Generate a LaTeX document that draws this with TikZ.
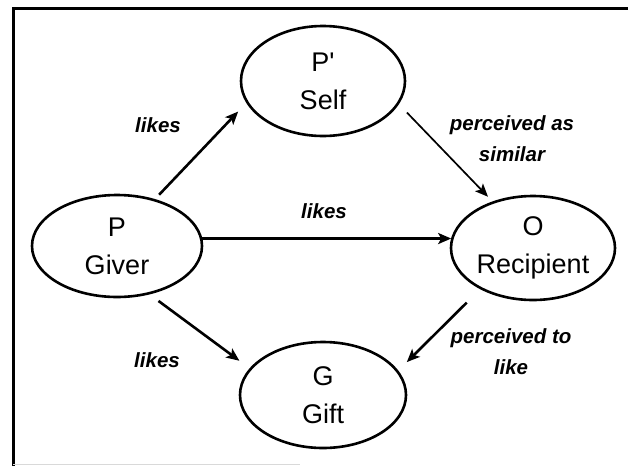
\documentclass[tikz,border=0pt]{standalone}
\usepackage{fontspec}
\setmainfont{Liberation Sans}
\usetikzlibrary{arrows.meta,calc,shapes.geometric}
\begin{document}
\begin{tikzpicture}[x=1pt,y=-1pt,
  bubble/.style={draw, ellipse, line width=2.6pt, inner sep=0pt, align=center,
    font=\fontsize{27}{38}\selectfont},
  rel/.style={-{Stealth[length=13pt,width=11pt,inset=3pt]}, line width=2.6pt},
  thinrel/.style={rel, line width=1.7pt},
  tag/.style={font=\fontsize{20.5}{31}\selectfont\bfseries\itshape, align=center, inner sep=0pt}
]
\useasboundingbox (0,0) rectangle (628,466);

% open frame
\draw[line width=3pt] (13,466) -- (13,8) -- (628,8);
\draw[line width=1pt, gray!30] (13,464.5) -- (300,464.5);

% the four parties
\node[bubble, minimum width=164pt, minimum height=110pt] (self)  at (323,81)  {P\textquotesingle\\Self};
\node[bubble, minimum width=170pt, minimum height=102pt] (giver) at (117,246) {P\\Giver};
\node[bubble, minimum width=164pt, minimum height=104pt] (recip) at (533,248) {O\\Recipient};
\node[bubble, minimum width=166pt, minimum height=106pt] (gift)  at (323,395) {G\\Gift};

% relations
\draw[rel, shorten <=6pt, shorten >=11.8pt] (giver.51.5) -- (self.196.8);
\draw[rel] (giver.5) -- (giver.5 -| recip.173);
\draw[rel, shorten <=11pt, shorten >=12.7pt] (giver.-56.6) -- (gift.160.8);
\draw[thinrel, shorten <=11.6pt, shorten >=6.5pt] (self.-17.9) -- (recip.131);
\draw[rel, shorten <=19pt, shorten >=12pt] (recip.218.6) -- (gift.18.6);

% labels
\node[tag] (l1) at (158,125) {likes};
\node[tag] (l2) at (324,211) {likes};
\node[tag] (l3) at (157,360) {likes};
\node[tag] (l4) at (512,139) {perceived as\\similar};
\node[tag] (l5) at (511,352) {perceived to\\like};
\end{tikzpicture}
\end{document}
